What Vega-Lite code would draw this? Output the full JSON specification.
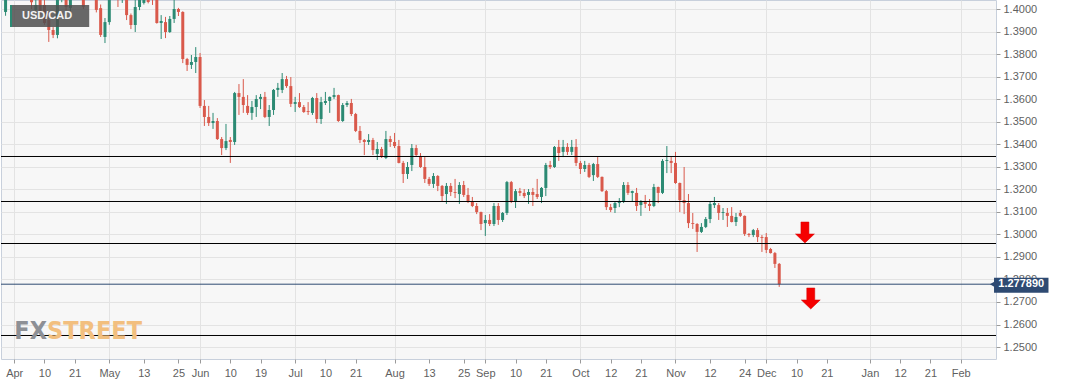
{
  "$schema": "https://vega.github.io/schema/vega-lite/v6.json",
  "width": 995,
  "height": 359,
  "autosize": "none",
  "padding": {"left": 1, "top": 0, "right": 71, "bottom": 26},
  "background": "#ffffff",
  "config": {
    "view": {"fill": "#f7f7f7", "stroke": "#c8d0dc", "strokeWidth": 1},
    "axis": {"labelFont": "Liberation Sans", "labelFontSize": 11, "labelColor": "#5f5f5f", "tickColor": "#9a9a9a", "domain": false, "title": null, "labelOverlap": false, "labelBound": false, "labelFlush": false}
  },
  "datasets": {
    "candles": [
      {"i":0,"o":1.3987,"h":1.4200,"l":1.3970,"c":1.4120},
      {"i":1,"o":1.4150,"h":1.4230,"l":1.4045,"c":1.4065},
      {"i":2,"o":1.4065,"h":1.4265,"l":1.4045,"c":1.4220},
      {"i":3,"o":1.4225,"h":1.4300,"l":1.4110,"c":1.4180},
      {"i":4,"o":1.4180,"h":1.4290,"l":1.4150,"c":1.4200},
      {"i":5,"o":1.4200,"h":1.4230,"l":1.4045,"c":1.4070},
      {"i":6,"o":1.4070,"h":1.4110,"l":1.4000,"c":1.4030},
      {"i":7,"o":1.3996,"h":1.4060,"l":1.3985,"c":1.4018},
      {"i":8,"o":1.4060,"h":1.4090,"l":1.3975,"c":1.3982},
      {"i":9,"o":1.4018,"h":1.4050,"l":1.3930,"c":1.3938},
      {"i":10,"o":1.3951,"h":1.3990,"l":1.3854,"c":1.3907},
      {"i":11,"o":1.3907,"h":1.3920,"l":1.3871,"c":1.3885},
      {"i":12,"o":1.3885,"h":1.4100,"l":1.3870,"c":1.4080},
      {"i":13,"o":1.4070,"h":1.4170,"l":1.4030,"c":1.4100},
      {"i":14,"o":1.4110,"h":1.4130,"l":1.3995,"c":1.4009},
      {"i":15,"o":1.4005,"h":1.4180,"l":1.3990,"c":1.4160},
      {"i":16,"o":1.4160,"h":1.4265,"l":1.4120,"c":1.4200},
      {"i":17,"o":1.4200,"h":1.4230,"l":1.4100,"c":1.4140},
      {"i":18,"o":1.4120,"h":1.4150,"l":1.4000,"c":1.4010},
      {"i":19,"o":1.4100,"h":1.4180,"l":1.4060,"c":1.4095},
      {"i":20,"o":1.4100,"h":1.4120,"l":1.4042,"c":1.4050},
      {"i":21,"o":1.4060,"h":1.4080,"l":1.3985,"c":1.3996},
      {"i":22,"o":1.4004,"h":1.4020,"l":1.3876,"c":1.3885},
      {"i":23,"o":1.3876,"h":1.3960,"l":1.3849,"c":1.3942},
      {"i":24,"o":1.3942,"h":1.4080,"l":1.3930,"c":1.4060},
      {"i":25,"o":1.4060,"h":1.4140,"l":1.4050,"c":1.4100},
      {"i":26,"o":1.4100,"h":1.4120,"l":1.4009,"c":1.4050},
      {"i":27,"o":1.4050,"h":1.4170,"l":1.4027,"c":1.4140},
      {"i":28,"o":1.4140,"h":1.4170,"l":1.3951,"c":1.3973},
      {"i":29,"o":1.3973,"h":1.3980,"l":1.3911,"c":1.3929},
      {"i":30,"o":1.3929,"h":1.4050,"l":1.3898,"c":1.4009},
      {"i":31,"o":1.4009,"h":1.4110,"l":1.3995,"c":1.4080},
      {"i":32,"o":1.4027,"h":1.4130,"l":1.4020,"c":1.4100},
      {"i":33,"o":1.4130,"h":1.4150,"l":1.4025,"c":1.4031},
      {"i":34,"o":1.4090,"h":1.4120,"l":1.4018,"c":1.4060},
      {"i":35,"o":1.4110,"h":1.4130,"l":1.3935,"c":1.3938},
      {"i":36,"o":1.3938,"h":1.3973,"l":1.3867,"c":1.3947},
      {"i":37,"o":1.3942,"h":1.3965,"l":1.3871,"c":1.3898},
      {"i":38,"o":1.3898,"h":1.3969,"l":1.3894,"c":1.3956},
      {"i":39,"o":1.3956,"h":1.4040,"l":1.3938,"c":1.4000},
      {"i":40,"o":1.4000,"h":1.4005,"l":1.3969,"c":1.3987},
      {"i":41,"o":1.3987,"h":1.3990,"l":1.3760,"c":1.3778},
      {"i":42,"o":1.3778,"h":1.3783,"l":1.3725,"c":1.3752},
      {"i":43,"o":1.3752,"h":1.3796,"l":1.3734,"c":1.3765},
      {"i":44,"o":1.3765,"h":1.3831,"l":1.3716,"c":1.3787},
      {"i":45,"o":1.3787,"h":1.3805,"l":1.3561,"c":1.3570},
      {"i":46,"o":1.3570,"h":1.3596,"l":1.3481,"c":1.3521},
      {"i":47,"o":1.3521,"h":1.3570,"l":1.3481,"c":1.3494},
      {"i":48,"o":1.3494,"h":1.3539,"l":1.3468,"c":1.3503},
      {"i":49,"o":1.3503,"h":1.3516,"l":1.3419,"c":1.3423},
      {"i":50,"o":1.3423,"h":1.3432,"l":1.3352,"c":1.3383},
      {"i":51,"o":1.3383,"h":1.3490,"l":1.3374,"c":1.3414},
      {"i":52,"o":1.3419,"h":1.3432,"l":1.3317,"c":1.3410},
      {"i":53,"o":1.3410,"h":1.3632,"l":1.3397,"c":1.3627},
      {"i":54,"o":1.3627,"h":1.3667,"l":1.3530,"c":1.3610},
      {"i":55,"o":1.3610,"h":1.3689,"l":1.3539,"c":1.3574},
      {"i":56,"o":1.3570,"h":1.3618,"l":1.3530,"c":1.3539},
      {"i":57,"o":1.3539,"h":1.3592,"l":1.3508,"c":1.3565},
      {"i":58,"o":1.3565,"h":1.3618,"l":1.3521,"c":1.3601},
      {"i":59,"o":1.3601,"h":1.3623,"l":1.3556,"c":1.3610},
      {"i":60,"o":1.3610,"h":1.3632,"l":1.3516,"c":1.3521},
      {"i":61,"o":1.3521,"h":1.3574,"l":1.3481,"c":1.3552},
      {"i":62,"o":1.3552,"h":1.3645,"l":1.3530,"c":1.3641},
      {"i":63,"o":1.3641,"h":1.3672,"l":1.3610,"c":1.3650},
      {"i":64,"o":1.3641,"h":1.3716,"l":1.3627,"c":1.3689},
      {"i":65,"o":1.3689,"h":1.3703,"l":1.3650,"c":1.3658},
      {"i":66,"o":1.3658,"h":1.3698,"l":1.3565,"c":1.3579},
      {"i":67,"o":1.3579,"h":1.3610,"l":1.3543,"c":1.3587},
      {"i":68,"o":1.3587,"h":1.3627,"l":1.3561,"c":1.3565},
      {"i":69,"o":1.3565,"h":1.3574,"l":1.3539,"c":1.3543},
      {"i":70,"o":1.3547,"h":1.3587,"l":1.3530,"c":1.3543},
      {"i":71,"o":1.3539,"h":1.3610,"l":1.3530,"c":1.3605},
      {"i":72,"o":1.3605,"h":1.3627,"l":1.3494,"c":1.3512},
      {"i":73,"o":1.3512,"h":1.3610,"l":1.3490,"c":1.3587},
      {"i":74,"o":1.3583,"h":1.3632,"l":1.3574,"c":1.3592},
      {"i":75,"o":1.3592,"h":1.3612,"l":1.3539,"c":1.3610},
      {"i":76,"o":1.3610,"h":1.3650,"l":1.3601,"c":1.3618},
      {"i":77,"o":1.3618,"h":1.3620,"l":1.3499,"c":1.3503},
      {"i":78,"o":1.3503,"h":1.3583,"l":1.3499,"c":1.3574},
      {"i":79,"o":1.3574,"h":1.3592,"l":1.3565,"c":1.3583},
      {"i":80,"o":1.3583,"h":1.3601,"l":1.3525,"c":1.3534},
      {"i":81,"o":1.3534,"h":1.3539,"l":1.3454,"c":1.3459},
      {"i":82,"o":1.3459,"h":1.3481,"l":1.3405,"c":1.3419},
      {"i":83,"o":1.3419,"h":1.3423,"l":1.3352,"c":1.3410},
      {"i":84,"o":1.3410,"h":1.3445,"l":1.3397,"c":1.3419},
      {"i":85,"o":1.3419,"h":1.3428,"l":1.3352,"c":1.3374},
      {"i":86,"o":1.3357,"h":1.3410,"l":1.3330,"c":1.3379},
      {"i":87,"o":1.3379,"h":1.3388,"l":1.3339,"c":1.3343},
      {"i":88,"o":1.3339,"h":1.3459,"l":1.3334,"c":1.3423},
      {"i":89,"o":1.3423,"h":1.3437,"l":1.3388,"c":1.3410},
      {"i":90,"o":1.3410,"h":1.3450,"l":1.3383,"c":1.3392},
      {"i":91,"o":1.3392,"h":1.3419,"l":1.3315,"c":1.3317},
      {"i":92,"o":1.3317,"h":1.3326,"l":1.3228,"c":1.3268},
      {"i":93,"o":1.3268,"h":1.3321,"l":1.3246,"c":1.3299},
      {"i":94,"o":1.3308,"h":1.3401,"l":1.3281,"c":1.3383},
      {"i":95,"o":1.3383,"h":1.3397,"l":1.3348,"c":1.3352},
      {"i":96,"o":1.3348,"h":1.3361,"l":1.3295,"c":1.3299},
      {"i":97,"o":1.3299,"h":1.3343,"l":1.3228,"c":1.3246},
      {"i":98,"o":1.3246,"h":1.3255,"l":1.3215,"c":1.3224},
      {"i":99,"o":1.3224,"h":1.3272,"l":1.3206,"c":1.3259},
      {"i":100,"o":1.3259,"h":1.3263,"l":1.3192,"c":1.3215},
      {"i":101,"o":1.3215,"h":1.3219,"l":1.3148,"c":1.3170},
      {"i":102,"o":1.3179,"h":1.3228,"l":1.3135,"c":1.3215},
      {"i":103,"o":1.3215,"h":1.3228,"l":1.3170,"c":1.3188},
      {"i":104,"o":1.3188,"h":1.3246,"l":1.3161,"c":1.3184},
      {"i":105,"o":1.3179,"h":1.3232,"l":1.3135,"c":1.3219},
      {"i":106,"o":1.3219,"h":1.3237,"l":1.3166,"c":1.3175},
      {"i":107,"o":1.3175,"h":1.3206,"l":1.3139,"c":1.3144},
      {"i":108,"o":1.3144,"h":1.3166,"l":1.3121,"c":1.3126},
      {"i":109,"o":1.3126,"h":1.3139,"l":1.3090,"c":1.3099},
      {"i":110,"o":1.3099,"h":1.3101,"l":1.3019,"c":1.3046},
      {"i":111,"o":1.3050,"h":1.3086,"l":1.2993,"c":1.3064},
      {"i":112,"o":1.3064,"h":1.3090,"l":1.3037,"c":1.3046},
      {"i":113,"o":1.3046,"h":1.3139,"l":1.3037,"c":1.3126},
      {"i":114,"o":1.3126,"h":1.3139,"l":1.3042,"c":1.3064},
      {"i":115,"o":1.3064,"h":1.3099,"l":1.3055,"c":1.3095},
      {"i":116,"o":1.3095,"h":1.3237,"l":1.3086,"c":1.3232},
      {"i":117,"o":1.3232,"h":1.3237,"l":1.3139,"c":1.3144},
      {"i":118,"o":1.3144,"h":1.3201,"l":1.3117,"c":1.3192},
      {"i":119,"o":1.3192,"h":1.3206,"l":1.3170,"c":1.3184},
      {"i":120,"o":1.3184,"h":1.3201,"l":1.3161,"c":1.3170},
      {"i":121,"o":1.3175,"h":1.3201,"l":1.3135,"c":1.3188},
      {"i":122,"o":1.3188,"h":1.3206,"l":1.3126,"c":1.3175},
      {"i":123,"o":1.3179,"h":1.3246,"l":1.3157,"c":1.3166},
      {"i":124,"o":1.3166,"h":1.3210,"l":1.3139,"c":1.3206},
      {"i":125,"o":1.3206,"h":1.3317,"l":1.3170,"c":1.3308},
      {"i":126,"o":1.3308,"h":1.3326,"l":1.3290,"c":1.3299},
      {"i":127,"o":1.3299,"h":1.3392,"l":1.3295,"c":1.3388},
      {"i":128,"o":1.3388,"h":1.3419,"l":1.3326,"c":1.3361},
      {"i":129,"o":1.3366,"h":1.3419,"l":1.3343,"c":1.3388},
      {"i":130,"o":1.3388,"h":1.3405,"l":1.3352,"c":1.3366},
      {"i":131,"o":1.3366,"h":1.3419,"l":1.3352,"c":1.3388},
      {"i":132,"o":1.3388,"h":1.3423,"l":1.3303,"c":1.3317},
      {"i":133,"o":1.3317,"h":1.3326,"l":1.3268,"c":1.3290},
      {"i":134,"o":1.3290,"h":1.3326,"l":1.3277,"c":1.3308},
      {"i":135,"o":1.3308,"h":1.3317,"l":1.3250,"c":1.3255},
      {"i":136,"o":1.3263,"h":1.3317,"l":1.3237,"c":1.3312},
      {"i":137,"o":1.3312,"h":1.3343,"l":1.3250,"c":1.3255},
      {"i":138,"o":1.3255,"h":1.3257,"l":1.3188,"c":1.3192},
      {"i":139,"o":1.3192,"h":1.3197,"l":1.3108,"c":1.3121},
      {"i":140,"o":1.3121,"h":1.3135,"l":1.3099,"c":1.3108},
      {"i":141,"o":1.3117,"h":1.3144,"l":1.3095,"c":1.3139},
      {"i":142,"o":1.3139,"h":1.3161,"l":1.3121,"c":1.3144},
      {"i":143,"o":1.3144,"h":1.3232,"l":1.3139,"c":1.3219},
      {"i":144,"o":1.3219,"h":1.3232,"l":1.3175,"c":1.3184},
      {"i":145,"o":1.3184,"h":1.3194,"l":1.3144,"c":1.3192},
      {"i":146,"o":1.3184,"h":1.3206,"l":1.3104,"c":1.3126},
      {"i":147,"o":1.3130,"h":1.3152,"l":1.3082,"c":1.3144},
      {"i":148,"o":1.3144,"h":1.3175,"l":1.3117,"c":1.3135},
      {"i":149,"o":1.3135,"h":1.3157,"l":1.3104,"c":1.3126},
      {"i":150,"o":1.3126,"h":1.3224,"l":1.3121,"c":1.3210},
      {"i":151,"o":1.3210,"h":1.3212,"l":1.3139,"c":1.3184},
      {"i":152,"o":1.3184,"h":1.3334,"l":1.3179,"c":1.3326},
      {"i":153,"o":1.3326,"h":1.3392,"l":1.3272,"c":1.3330},
      {"i":154,"o":1.3326,"h":1.3343,"l":1.3272,"c":1.3317},
      {"i":155,"o":1.3317,"h":1.3366,"l":1.3224,"c":1.3228},
      {"i":156,"o":1.3228,"h":1.3230,"l":1.3099,"c":1.3152},
      {"i":157,"o":1.3152,"h":1.3299,"l":1.3090,"c":1.3139},
      {"i":158,"o":1.3139,"h":1.3179,"l":1.3028,"c":1.3050},
      {"i":159,"o":1.3050,"h":1.3095,"l":1.3024,"c":1.3046},
      {"i":160,"o":1.3046,"h":1.3050,"l":1.2922,"c":1.3011},
      {"i":161,"o":1.3011,"h":1.3050,"l":1.3006,"c":1.3033},
      {"i":162,"o":1.3033,"h":1.3077,"l":1.3028,"c":1.3068},
      {"i":163,"o":1.3068,"h":1.3144,"l":1.3050,"c":1.3135},
      {"i":164,"o":1.3130,"h":1.3166,"l":1.3117,"c":1.3139},
      {"i":165,"o":1.3130,"h":1.3139,"l":1.3064,"c":1.3095},
      {"i":166,"o":1.3095,"h":1.3117,"l":1.3064,"c":1.3099},
      {"i":167,"o":1.3095,"h":1.3117,"l":1.3033,"c":1.3082},
      {"i":168,"o":1.3082,"h":1.3121,"l":1.3053,"c":1.3055},
      {"i":169,"o":1.3055,"h":1.3095,"l":1.3037,"c":1.3077},
      {"i":170,"o":1.3095,"h":1.3108,"l":1.3077,"c":1.3082},
      {"i":171,"o":1.3082,"h":1.3084,"l":1.2993,"c":1.3002},
      {"i":172,"o":1.3002,"h":1.3006,"l":1.2988,"c":1.2997},
      {"i":173,"o":1.2997,"h":1.3024,"l":1.2988,"c":1.3019},
      {"i":174,"o":1.3019,"h":1.3028,"l":1.2966,"c":1.2988},
      {"i":175,"o":1.2988,"h":1.2997,"l":1.2922,"c":1.2984},
      {"i":176,"o":1.2988,"h":1.3006,"l":1.2917,"c":1.2931},
      {"i":177,"o":1.2935,"h":1.2940,"l":1.2915,"c":1.2917},
      {"i":178,"o":1.2917,"h":1.2922,"l":1.2851,"c":1.2869},
      {"i":179,"o":1.2869,"h":1.2873,"l":1.2767,"c":1.27789}
    ],
    "levels": [
      {"level": 1.33456},
      {"level": 1.31459},
      {"level": 1.29595},
      {"level": 1.25513}
    ],
    "price": [{"last": 1.27789, "tag": "1.277890"}]
  },
  "layer": [
    {
      "data": {"name": "candles"},
      "mark": {"type": "rule", "clip": true, "strokeWidth": 1},
      "encoding": {
        "x": {
          "field": "i", "type": "quantitative",
          "scale": {"domain": [0.1, 228.0], "nice": false, "zero": false},
          "axis": {
            "orient": "bottom",
            "values": [2,9,16,24,32,40,45,52,59,67,74,81,90,98,106,111,118,125,133,140,147,155,163,171,176,183,190,200,207,214,221],
            "tickCount": 200,
            "labelExpr": "['Apr','10','21','May','13','25','Jun','10','19','Jul','10','21','Aug','13','25','Sep','10','21','Oct','12','21','Nov','12','24','Dec','10','21','Jan','12','21','Feb'][indexof([2,9,16,24,32,40,45,52,59,67,74,81,90,98,106,111,118,125,133,140,147,155,163,171,176,183,190,200,207,214,221], datum.value)]",
            "tickSize": 4, "labelPadding": 4, "labelFlush": false, "labelOverlap": false, "labelBound": false,
            "grid": true, "gridColor": "#e3e3e3",
            "gridOpacity": {"condition": {"test": "indexof([2,24,45,67,90,111,133,155,176,200,221], datum.value) >= 0", "value": 1}, "value": 0}
          }
        },
        "y": {
          "field": "l", "type": "quantitative",
          "scale": {"domain": [1.2447, 1.4040], "nice": false, "zero": false},
          "axis": {
            "orient": "right",
            "values": [1.25,1.26,1.27,1.28,1.29,1.30,1.31,1.32,1.33,1.34,1.35,1.36,1.37,1.38,1.39,1.40],
            "tickCount": 200,
            "format": ".4f", "tickSize": 4, "labelPadding": 3, "labelOverlap": false, "labelBound": false,
            "grid": true, "gridColor": "#e3e3e3"
          }
        },
        "y2": {"field": "h"},
        "color": {"condition": {"test": "datum.c >= datum.o", "value": "#2b8a73"}, "value": "#d9594b"}
      }
    },
    {
      "data": {"name": "candles"},
      "mark": {"type": "bar", "clip": true, "size": 3},
      "encoding": {
        "x": {"field": "i", "type": "quantitative"},
        "y": {"field": "o", "type": "quantitative"},
        "y2": {"field": "c"},
        "color": {"condition": {"test": "datum.c >= datum.o", "value": "#2b8a73"}, "value": "#d9594b"}
      }
    },
    {
      "data": {"name": "levels"},
      "mark": {"type": "rule", "color": "#000000", "strokeWidth": 1},
      "encoding": {"y": {"field": "level", "type": "quantitative"}}
    },
    {
      "data": {"name": "price"},
      "mark": {"type": "rule", "color": "#2e4a72", "strokeWidth": 1},
      "encoding": {"y": {"field": "last", "type": "quantitative"}}
    },
    {
      "data": {"name": "price"},
      "mark": {"type": "rect", "color": "#2e4a72", "clip": false},
      "encoding": {
        "x": {"datum": 228.7, "type": "quantitative"},
        "x2": {"datum": 241.3},
        "y": {"datum": 1.2808, "type": "quantitative"},
        "y2": {"datum": 1.2741}
      }
    },
    {
      "data": {"name": "price"},
      "mark": {"type": "point", "shape": "triangle-left", "filled": true, "size": 30, "color": "#2e4a72", "opacity": 1, "clip": false},
      "encoding": {
        "x": {"datum": 228.3, "type": "quantitative"},
        "y": {"field": "last", "type": "quantitative"}
      }
    },
    {
      "data": {"name": "price"},
      "mark": {"type": "text", "color": "#ffffff", "font": "Liberation Sans", "fontSize": 11, "fontWeight": "bold", "align": "center", "baseline": "middle", "clip": false},
      "encoding": {
        "x": {"datum": 235.0, "type": "quantitative"},
        "y": {"field": "last", "type": "quantitative"},
        "text": {"field": "tag"}
      }
    },
    {
      "data": {"values": [{"name": "USD/CAD"}]},
      "mark": {"type": "rect", "color": "#4f4f4f", "opacity": 0.85},
      "encoding": {
        "x": {"datum": 1.49, "type": "quantitative"},
        "x2": {"datum": 19.35},
        "y": {"datum": 1.40178, "type": "quantitative"},
        "y2": {"datum": 1.39202}
      }
    },
    {
      "data": {"values": [{"name": "USD/CAD"}]},
      "mark": {"type": "rect", "color": "#2b8a73"},
      "encoding": {
        "x": {"datum": 1.03, "type": "quantitative"},
        "x2": {"datum": 1.49},
        "y": {"datum": 1.40178, "type": "quantitative"},
        "y2": {"datum": 1.39202}
      }
    },
    {
      "data": {"values": [{"name": "USD/CAD"}]},
      "mark": {"type": "text", "color": "#f2f2f2", "font": "Liberation Sans", "fontSize": 11, "fontWeight": "bold", "align": "center", "baseline": "middle"},
      "encoding": {
        "x": {"datum": 9.6, "type": "quantitative"},
        "y": {"datum": 1.3969, "type": "quantitative"},
        "text": {"field": "name"}
      }
    },
    {
      "data": {"values": [{"a": "FX", "b": "STREET"}]},
      "mark": {"type": "text", "color": "#8d9096", "font": "'DejaVu Sans Condensed', 'Liberation Sans Narrow', 'Roboto Condensed', 'Liberation Sans', sans-serif", "fontSize": 25, "fontWeight": "bold", "align": "right", "baseline": "alphabetic"},
      "encoding": {
        "x": {"datum": 9.6, "type": "quantitative"},
        "y": {"datum": 1.25358, "type": "quantitative"},
        "text": {"field": "a"}
      }
    },
    {
      "data": {"values": [{"a": "FX", "b": "STREET"}]},
      "mark": {"type": "text", "color": "#f2bf7f", "font": "'DejaVu Sans Condensed', 'Liberation Sans Narrow', 'Roboto Condensed', 'Liberation Sans', sans-serif", "fontSize": 25, "fontWeight": "bold", "align": "left", "baseline": "alphabetic"},
      "encoding": {
        "x": {"datum": 9.6, "type": "quantitative"},
        "y": {"datum": 1.25358, "type": "quantitative"},
        "text": {"field": "b"}
      }
    },
    {
      "data": {"values": [{"arrow": "down", "px": 184.95, "py": 1.30083}, {"arrow": "down", "px": 186.3, "py": 1.27155}]},
      "mark": {"type": "point", "filled": true, "shape": "M-0.38,-1 L0.38,-1 L0.38,0.14 L0.9,0.14 L0,1 L-0.9,0.14 L-0.38,0.14 Z", "size": 441, "color": "#f50000", "opacity": 1, "stroke": "#d40000", "strokeWidth": 0.5},
      "encoding": {
        "x": {"field": "px", "type": "quantitative"},
        "y": {"field": "py", "type": "quantitative"}
      }
    }
  ]
}
